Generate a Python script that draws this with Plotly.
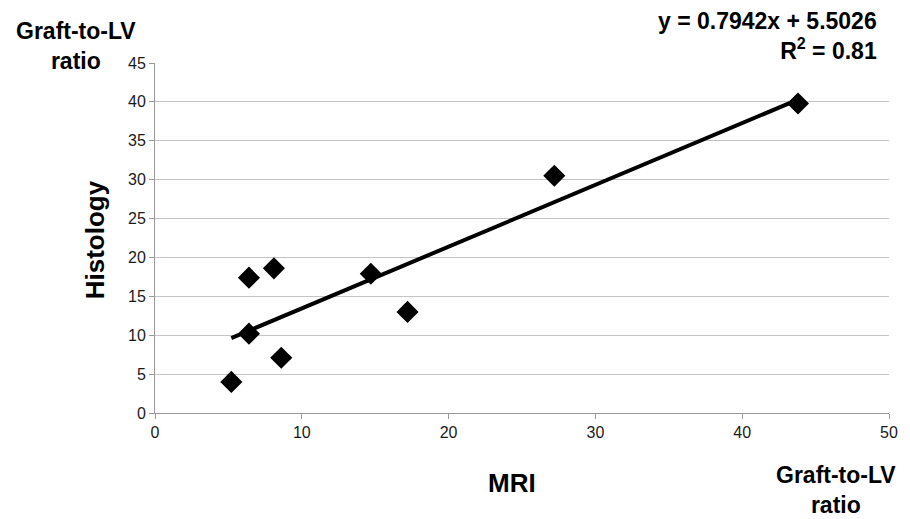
import plotly.graph_objects as go

mri = [5.2, 6.4, 6.4, 8.1, 8.6, 14.7, 17.2, 27.2, 43.8]
histology = [4.0, 10.2, 17.4, 18.6, 7.1, 17.9, 13.0, 30.5, 39.8]
slope = 0.7942
intercept = 5.5026
x_ticks = [0, 10, 20, 30, 40, 50]
y_ticks = [0, 5, 10, 15, 20, 25, 30, 35, 40, 45]
grid_ticks = [5, 10, 15, 20, 25, 30, 35, 40]

trend_x = [min(mri), max(mri)]
trend_y = [slope * v + intercept for v in trend_x]

fig = go.Figure()
fig.add_trace(go.Scatter(x=trend_x, y=trend_y, mode="lines",
                         line=dict(color="black", width=4), showlegend=False))
fig.add_trace(go.Scatter(x=mri, y=histology, mode="markers",
                         marker=dict(symbol="diamond", size=17, color="black"),
                         showlegend=False))

# page body has an 8px margin, so the figure is 8px smaller and offsets shift by 8
OFF = 8
W, H = 910 - OFF, 519 - OFF
L, R, T, B = 155 - OFF, 17, 63 - OFF, 106

font_family = "Liberation Sans, Arial, sans-serif"
fig.update_layout(
    width=W, height=H,
    margin=dict(l=L, r=R, t=T, b=B),
    paper_bgcolor="white", plot_bgcolor="white",
    font=dict(family=font_family, color="black", size=16),
    xaxis=dict(range=[0, 50], tickvals=x_ticks, showgrid=False, zeroline=False,
               showline=True, linecolor="#9a9a9a", linewidth=1,
               ticks="outside", ticklen=5, tickcolor="#9a9a9a",
               tickfont=dict(size=16, color="#1a1a1a"), fixedrange=True),
    yaxis=dict(range=[0, 45], tickvals=y_ticks, showgrid=False, zeroline=False,
               showline=True, linecolor="#9a9a9a", linewidth=1,
               ticks="outside", ticklen=5, tickcolor="#9a9a9a",
               tickfont=dict(size=16, color="#1a1a1a"), fixedrange=True),
    yaxis2=dict(range=[0, 45], tickvals=grid_ticks, overlaying="y", side="left",
                showgrid=True, gridcolor="#c4c4c4", gridwidth=1, zeroline=False,
                showticklabels=False, ticks="", showline=False, fixedrange=True),
)
fig.add_trace(go.Scatter(x=[None], y=[None], yaxis="y2", showlegend=False,
                         hoverinfo="skip"))

pw = W - L - R
ph = H - T - B
def px(x):
    return (x - OFF - L) / pw
def py(y):
    return (H - B - (y - OFF)) / ph

fig.update_layout(annotations=[
    dict(text="<b>Histology</b>", x=px(95), y=py(240), xref="paper", yref="paper",
         xanchor="center", yanchor="middle",
         showarrow=False, textangle=-90, font=dict(size=26)),
    dict(text="<b>MRI</b>", x=px(514), y=py(483), xref="paper", yref="paper",
         xanchor="center", yanchor="middle", showarrow=False, font=dict(size=26)),
    dict(text="<b>Graft-to-LV<br>ratio</b>", x=px(76), y=py(46), xref="paper",
         yref="paper", xanchor="center", yanchor="middle", align="center",
         showarrow=False, font=dict(size=23)),
    dict(text="<b>Graft-to-LV<br>ratio</b>", x=px(840), y=py(490), xref="paper",
         yref="paper", xanchor="center", yanchor="middle", align="center",
         showarrow=False, font=dict(size=23)),
    dict(text="<b>y = 0.7942x + 5.5026<br>R<sup>2</sup> = 0.81</b>", x=px(883),
         y=py(36), xref="paper", yref="paper", xanchor="right", yanchor="middle",
         align="right", showarrow=False, font=dict(size=23)),
])

fig.write_html("out.html")
